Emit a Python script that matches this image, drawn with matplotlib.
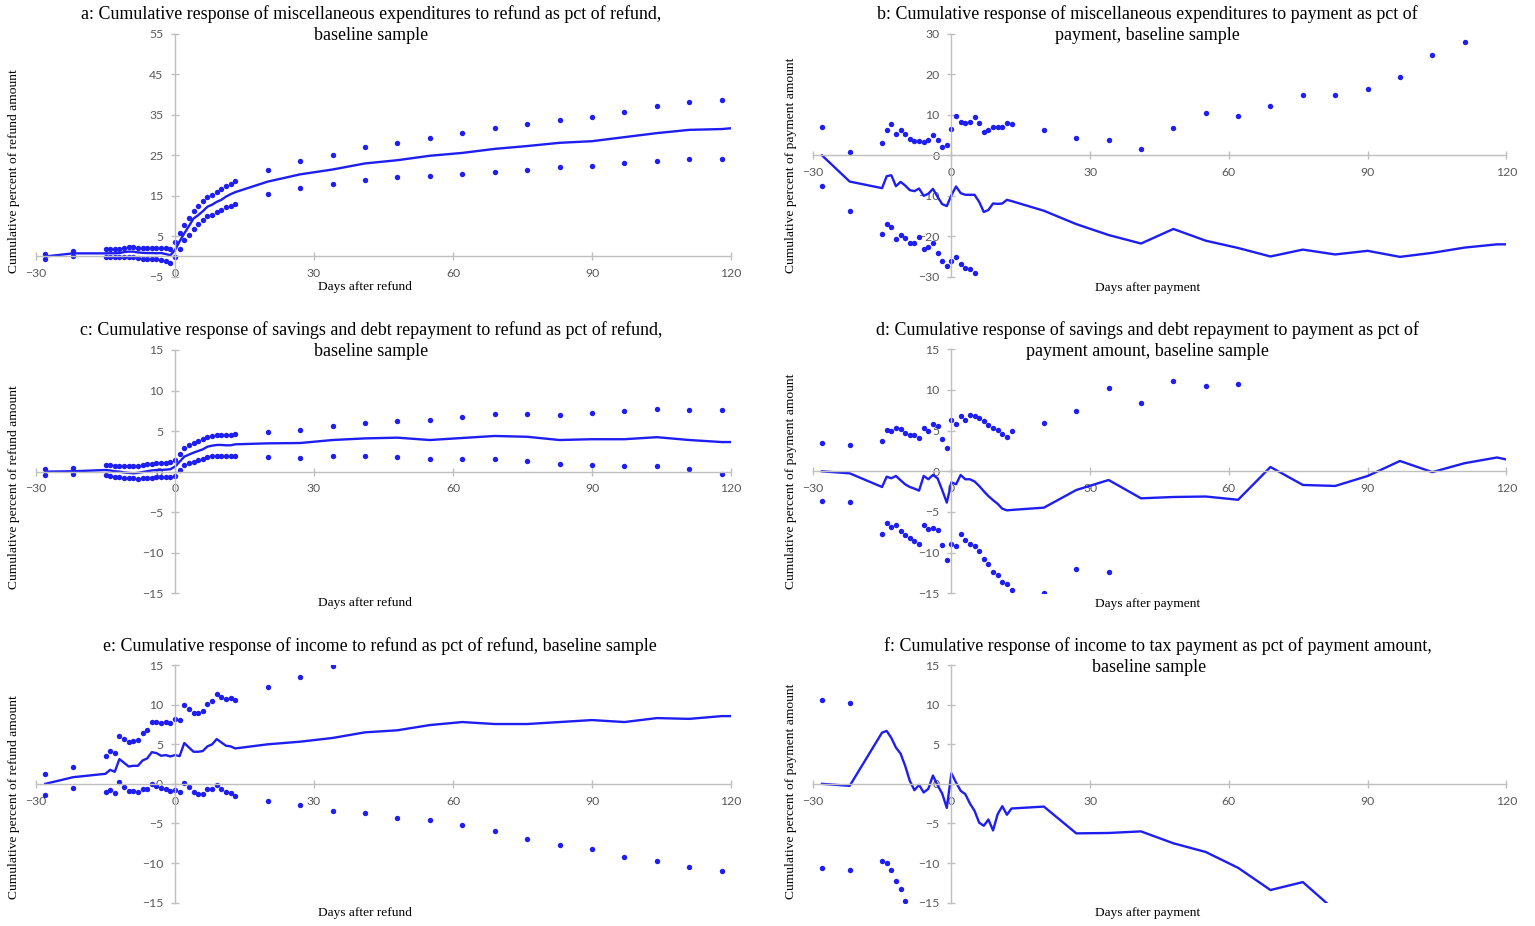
import matplotlib
matplotlib.use("Agg")
import matplotlib.pyplot as plt

# days relative to refund / payment
days = [-28, -22,
        -15, -14, -13, -12, -11, -10, -9, -8, -7, -6, -5, -4, -3, -2, -1,
        0, 1, 2, 3, 4, 5, 6, 7, 8, 9, 10, 11, 12, 13,
        20, 27, 34, 41, 48, 55, 62, 69, 76, 83, 90, 97, 104, 111, 118]
line_days = days + [120]

# a: misc expenditures, refund
a_est = [0.0, 0.77,
         0.77, 0.8, 0.8, 0.85, 1.1, 1.2, 1.2, 1.0, 0.9, 0.85, 0.85, 0.8, 0.85, 0.6, 0.3,
         1.6, 3.75, 5.7, 7.5, 9.4, 10.2, 11.2, 12.3, 12.8, 13.5, 14.0, 14.8, 15.4, 15.9,
         18.5, 20.3, 21.5, 23.0, 23.8, 24.9, 25.6, 26.6, 27.3, 28.1, 28.5, 29.5, 30.5, 31.3, 31.5,
         31.7]
a_hi = [0.6, 1.43,
        1.76, 1.76, 1.76, 1.84, 2.09, 2.33, 2.33, 2.09, 2.09, 2.09, 2.09, 2.09, 2.17, 2.0, 1.84,
        3.49, 5.71, 7.85, 9.5, 11.3, 12.47, 13.6, 14.7, 15.2, 15.9, 16.6, 17.5, 18.0, 18.57,
        21.4, 23.6, 25.0, 27.0, 28.1, 29.4, 30.5, 31.7, 32.7, 33.8, 34.6, 35.8, 37.1, 38.2, 38.7]
a_lo = [-0.7, 0.0,
        -0.14, -0.22, -0.22, -0.22, -0.14, -0.06, -0.14, -0.3, -0.63, -0.63, -0.63, -0.72, -0.8, -1.13, -1.54,
        -0.06, 1.92, 3.98, 5.2, 6.7, 7.94, 9.0, 10.0, 10.24, 10.9, 11.5, 12.14, 12.47, 12.96,
        15.4, 16.9, 17.8, 19.0, 19.6, 20.0, 20.5, 21.0, 21.4, 22.1, 22.4, 23.0, 23.7, 24.1, 24.0]

# b: misc expenditures, payment
b_est = [0.0, -6.48,
         -8.11, -5.16, -4.92, -7.62, -6.56, -7.46, -8.6, -8.85, -8.2, -10.0, -9.5, -8.28, -10.25, -12.05, -12.54,
         -9.84, -7.7, -9.34, -9.75, -9.75, -9.75, -11.5, -14.0, -13.5, -11.9, -12.0, -11.9, -11.0, -11.3,
         -13.7, -17.0, -19.7, -21.8, -18.2, -21.1, -22.9, -25.0, -23.3, -24.5, -23.6, -25.1, -24.1, -22.8, -22.0,
         -22.0]
b_hi = [7.13, 0.74,
        3.03, 6.39, 7.87, 5.33, 6.39, 5.16, 4.1, 3.6, 3.6, 3.36, 3.85, 5.0, 3.69, 1.97, 2.46,
        6.56, 9.67, 8.2, 8.03, 8.36, 9.43, 8.11, 5.66, 6.23, 7.13, 7.05, 7.13, 8.11, 7.7,
        6.2, 4.2, 3.7, 1.5, 6.7, 10.5, 9.75, 12.3, 15.0, 14.8, 16.45, 19.25, 24.7, 28.0, 32.5]
b_lo = [-7.46, -13.85,
        -19.34, -16.89, -17.7, -20.74, -19.67, -20.41, -21.72, -21.56, -20.16, -23.2, -22.7, -21.56, -24.1, -26.07, -27.46,
        -26.23, -25.08, -26.8, -27.87, -28.03, -29.1, -31.1, -33.7, -33.2, -31.0, -31.1, -31.0, -31.0, -31.0,
        -33.6, -38.2, -43.1, -45.1, -43.1, -52.7, -55.6, -62.3, -61.6, -63.8, -63.7, -69.5, -72.9, -73.6, -76.5]

# c: savings and debt repayment, refund
c_est = [0.0, 0.05,
         0.2, 0.15, 0.05, 0.0, -0.1, -0.15, -0.2, -0.15, -0.05, 0.05, 0.15, 0.2, 0.2, 0.25, 0.3,
         0.62, 1.23, 1.85, 2.1, 2.34, 2.55, 2.75, 3.08, 3.2, 3.29, 3.29, 3.25, 3.25, 3.37,
         3.49, 3.53, 3.9, 4.1, 4.19, 3.9, 4.15, 4.4, 4.3, 3.9, 4.0, 4.0, 4.25, 3.9, 3.65,
         3.65]
c_hi = [0.37, 0.45,
        0.82, 0.78, 0.7, 0.7, 0.66, 0.66, 0.66, 0.66, 0.78, 0.9, 0.99, 1.03, 1.07, 1.07, 1.15,
        1.4, 2.18, 2.92, 3.25, 3.53, 3.74, 4.03, 4.27, 4.4, 4.48, 4.48, 4.48, 4.48, 4.64,
        4.89, 5.1, 5.67, 6.0, 6.25, 6.37, 6.7, 7.1, 7.1, 7.0, 7.2, 7.45, 7.7, 7.6, 7.6]
c_lo = [-0.37, -0.33,
        -0.41, -0.53, -0.66, -0.7, -0.74, -0.78, -0.82, -0.86, -0.82, -0.78, -0.74, -0.7, -0.7, -0.7, -0.66,
        -0.49, 0.2, 0.78, 1.03, 1.19, 1.4, 1.6, 1.85, 1.93, 1.97, 1.97, 1.93, 1.93, 1.93,
        1.8, 1.73, 1.97, 1.97, 1.85, 1.57, 1.57, 1.57, 1.3, 0.95, 0.8, 0.7, 0.7, 0.3, -0.3]

# d: savings and debt repayment, payment
d_est = [0.0, -0.25,
         -1.93, -0.66, -0.86, -0.57, -1.1, -1.6, -1.93, -2.13, -2.38, -0.57, -0.98, -0.45, -0.86, -2.3, -3.85,
         -1.35, -1.6, -0.45, -0.98, -0.98, -1.25, -1.8, -2.45, -3.05, -3.55, -4.0, -4.6, -4.8, -4.75,
         -4.47, -2.3, -1.07, -3.32, -3.16, -3.1, -3.5, 0.53, -1.68, -1.8, -0.58, 1.27, -0.1, 1.0, 1.7,
         1.45]
d_hi = [3.48, 3.28,
        3.73, 5.08, 4.92, 5.33, 5.25, 4.75, 4.43, 4.43, 4.14, 5.29, 4.92, 5.82, 5.61, 3.98, 2.87,
        6.31, 5.86, 6.8, 6.35, 6.93, 6.84, 6.56, 6.19, 5.74, 5.33, 5.12, 4.55, 4.22, 4.92,
        5.94, 7.42, 10.29, 8.44, 11.1, 10.49, 10.73, 16.5, 16.3, 16.7, 18.4, 20.8, 19.9, 21.5, 22.6]
d_lo = [-3.61, -3.81,
        -7.7, -6.39, -6.8, -6.56, -7.34, -7.83, -8.24, -8.61, -8.93, -6.6, -7.09, -6.97, -7.25, -9.1, -10.86,
        -8.89, -9.14, -7.75, -8.44, -8.89, -9.18, -9.84, -10.78, -11.43, -12.38, -12.79, -13.61, -13.85, -14.55,
        -14.92, -12.0, -12.42, -15.3, -17.4, -16.7, -17.7, -15.9, -19.7, -20.3, -19.6, -18.2, -20.1, -19.5, -19.4]

# e: income, refund
e_est = [0.0, 0.84,
         1.27, 1.77, 1.52, 3.12, 2.66, 2.19, 2.28, 2.28, 2.95, 3.21, 4.0, 3.88, 3.54, 3.63, 3.46,
         3.63, 3.5, 5.15, 4.6, 4.05, 4.05, 4.14, 4.73, 4.98, 5.65, 5.23, 4.81, 4.73, 4.47,
         4.99, 5.32, 5.79, 6.5, 6.76, 7.42, 7.8, 7.55, 7.55, 7.8, 8.05, 7.8, 8.3, 8.2, 8.55,
         8.55]
e_hi = [1.22, 2.11,
        3.46, 4.14, 3.88, 5.99, 5.61, 5.23, 5.4, 5.49, 6.37, 6.79, 7.85, 7.85, 7.64, 7.76, 7.72,
        8.19, 8.1, 9.92, 9.49, 8.99, 8.99, 9.16, 10.08, 10.5, 11.35, 10.97, 10.68, 10.8, 10.63,
        12.25, 13.48, 14.83, 16.7, 17.9, 19.4, 20.8, 21.1, 22.1, 23.3, 24.3, 24.9, 26.4, 26.9, 28.1]
e_lo = [-1.39, -0.51,
        -1.01, -0.76, -1.14, 0.25, -0.34, -0.84, -0.89, -1.01, -0.63, -0.59, 0.04, -0.21, -0.55, -0.59, -0.84,
        -0.72, -1.05, 0.17, -0.38, -1.05, -1.22, -1.22, -0.63, -0.63, -0.17, -0.63, -0.97, -1.1, -1.52,
        -2.15, -2.7, -3.38, -3.68, -4.35, -4.57, -5.2, -5.95, -6.97, -7.7, -8.2, -9.25, -9.75, -10.5, -11.0]

# f: income, tax payment
f_est = [0.0, -0.25,
         6.47, 6.68, 5.8, 4.58, 3.82, 2.27, 0.38, -0.8, -0.13, -1.09, -0.63, 1.05, -0.17, -1.22, -3.03,
         1.34, 0.17, -0.88, -1.3, -2.48, -3.4, -4.9, -5.29, -4.5, -5.88, -3.82, -2.82, -3.9, -3.11,
         -2.87, -6.25, -6.2, -6.0, -7.5, -8.6, -10.6, -13.4, -12.4, -16.0, -18.0, -19.5, -20.5, -21.0, -22.0,
         -22.2]
f_hi = [10.55, 10.25,
        22.7, 23.3, 22.4, 21.4, 21.0, 19.3, 18.0, 17.0, 18.0, 17.5, 18.5, 20.5, 19.5, 18.5, 17.0,
        22.0, 21.0, 20.0, 20.0, 19.0, 18.5, 17.5, 17.5, 18.5, 17.5, 20.0, 21.5, 20.5, 21.5,
        23.0, 21.0, 22.5, 24.0, 24.0, 24.5, 24.0, 22.5, 25.0, 23.0, 23.0, 22.5, 23.0, 24.0, 24.0]
f_lo = [-10.63, -10.92,
        -9.79, -9.96, -10.84, -12.23, -13.32, -14.75, -17.2, -18.6, -18.3, -19.7, -19.8, -18.4, -19.8, -21.0, -23.1,
        -19.3, -20.7, -21.8, -22.6, -24.0, -25.3, -27.3, -28.1, -27.5, -29.3, -27.6, -27.1, -28.3, -27.7,
        -28.7, -33.5, -34.9, -36.0, -39.0, -41.7, -45.2, -49.3, -49.8, -55.0, -59.0, -61.5, -64.0, -66.0, -68.0]

# title lines, one list per panel
titles = [
    ["a: Cumulative response of miscellaneous expenditures to refund as pct of refund,", "baseline sample"],
    ["b: Cumulative response of miscellaneous expenditures to payment as pct of", "payment, baseline sample"],
    ["c: Cumulative response of savings and debt repayment to refund as pct of refund,", "baseline sample"],
    ["d: Cumulative response of savings and debt repayment to payment as pct of", "payment amount, baseline sample"],
    ["e: Cumulative response of income to refund as pct of refund, baseline sample"],
    ["f: Cumulative response of income to tax payment as pct of payment amount,", "baseline sample"],
]
x_ticks = [-30, 0, 30, 60, 90, 120]

W, H = 1535, 926
BLUE = "#1e1ef2"
AXIS_GREY = "#bfbfbf"
TICK_GREY = "#595959"
SERIF = "Liberation Serif"

fig = plt.figure(figsize=(W / 100, H / 100), dpi=100)


def rect(left, top, right, bottom):
    return [left / W, 1 - bottom / H, (right - left) / W, (bottom - top) / H]


# per panel: data, y range, y ticks, pixel box, title line centres, xlabel, ylabel
panels = [
    (a_est, a_hi, a_lo, (-5, 55), list(range(-5, 56, 10)), (36, 34, 731, 276.7),
     [(371, 14), (371, 35)], 287, "Days after refund", "Cumulative percent of refund amount", 14),
    (b_est, b_hi, b_lo, (-30, 30), list(range(-30, 31, 10)), (812.7, 34, 1506.3, 276.7),
     [(1147, 14), (1147, 35)], 288, "Days after payment", "Cumulative percent of payment amount", 791),
    (c_est, c_hi, c_lo, (-15, 15), list(range(-15, 16, 5)), (36, 350, 731, 593.3),
     [(371, 330), (371, 351)], 603, "Days after refund", "Cumulative percent of refund amount", 14),
    (d_est, d_hi, d_lo, (-15, 15), list(range(-15, 16, 5)), (812.7, 349.3, 1506.3, 593.3),
     [(1147, 330), (1147, 351)], 604, "Days after payment", "Cumulative percent of payment amount", 791),
    (e_est, e_hi, e_lo, (-15, 15), list(range(-15, 16, 5)), (36, 665, 731, 902.7),
     [(380, 646)], 913, "Days after refund", "Cumulative percent of refund amount", 14),
    (f_est, f_hi, f_lo, (-15, 15), list(range(-15, 16, 5)), (812.7, 665, 1506.3, 902.7),
     [(1158, 646), (1149, 667)], 913, "Days after payment", "Cumulative percent of payment amount", 791),
]

for i, (est, hi, lo, ylim, yticks, box, tpos, xlab_y, xlab, ylab, ylab_x) in enumerate(panels):
    ax = fig.add_axes(rect(*box))
    ax.plot(days, hi, "o", color=BLUE, markersize=3.9, markeredgewidth=0)
    ax.plot(days, lo, "o", color=BLUE, markersize=3.9, markeredgewidth=0)
    ax.plot(line_days, est, "-", color=BLUE, linewidth=1.7)

    ax.set_xlim(-30, 120)
    ax.set_ylim(*ylim)
    ax.set_xticks(x_ticks)
    ax.set_yticks(yticks)
    ax.set_facecolor("none")

    for side in ["top", "right"]:
        ax.spines[side].set_visible(False)
    ax.spines["left"].set_position(("data", 0))
    ax.spines["bottom"].set_position(("data", 0))
    for side in ["left", "bottom"]:
        ax.spines[side].set_color(AXIS_GREY)
        ax.spines[side].set_linewidth(1.0)

    ax.tick_params(direction="inout", length=6, width=1, color=AXIS_GREY,
                   labelcolor=TICK_GREY, labelsize=8.8, pad=5.5)
    for lbl in ax.get_xticklabels() + ax.get_yticklabels():
        lbl.set_fontfamily("Lato")

    for line, (tx, ty) in zip(titles[i], tpos):
        fig.text(tx / W, 1 - ty / H, line, ha="center", va="center",
                 fontsize=12.9, family=SERIF)
    xc = (box[0] + box[2]) / 2 - (19 if i % 2 == 0 else 12)
    fig.text(xc / W, 1 - xlab_y / H, xlab, ha="center", va="center",
             fontsize=9.6, family=SERIF)
    fig.text(ylab_x / W, 1 - (box[3] - 4) / H, ylab, ha="center", va="bottom",
             rotation=90, fontsize=9.7, family=SERIF)

fig.savefig("out.png", dpi=100)
